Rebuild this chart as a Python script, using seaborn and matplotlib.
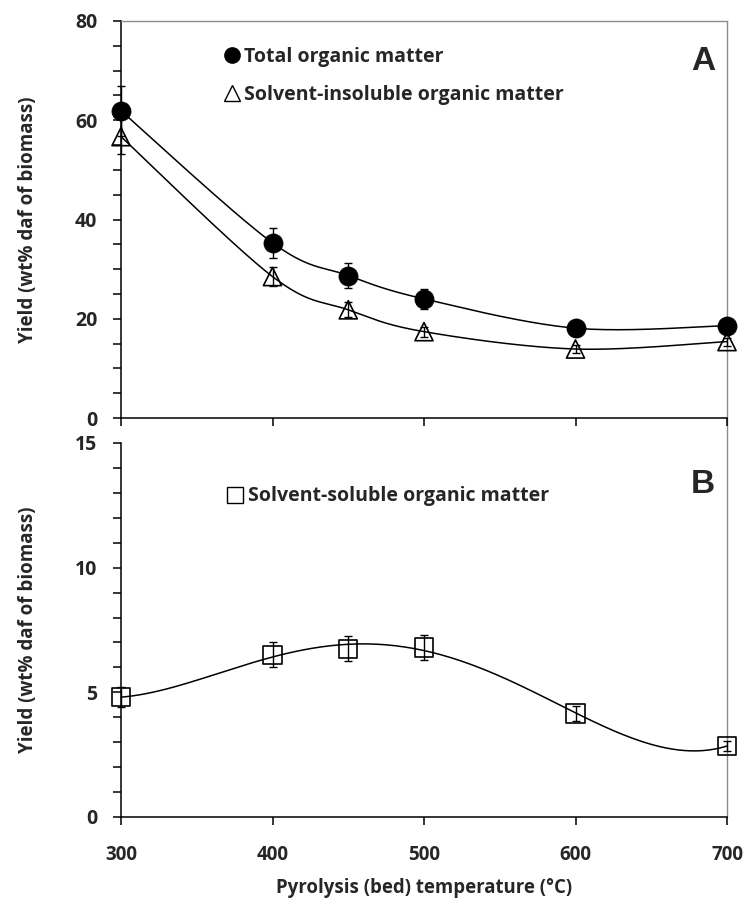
import numpy as np
import pandas as pd
import matplotlib
matplotlib.use("Agg")
import matplotlib.pyplot as plt
import seaborn as sns
from matplotlib.lines import Line2D

# ---------------- data ----------------
temperature = [300, 400, 450, 500, 600, 700]
total_om = [61.9, 35.3, 28.7, 24.0, 18.1, 18.6]
total_err = [5.0, 3.0, 2.5, 2.0, 1.5, 1.2]
insol_om = [56.7, 28.5, 21.8, 17.4, 13.9, 15.4]
insol_err = [3.5, 2.0, 1.5, 1.0, 0.8, 0.8]
sol_om = [4.8, 6.5, 6.75, 6.8, 4.15, 2.85]
sol_err = [0.4, 0.5, 0.5, 0.5, 0.3, 0.2]

x_ticks = [300, 400, 500, 600, 700]
label_total = "Total organic matter"
label_insol = "Solvent-insoluble organic matter"
label_sol = "Solvent-soluble organic matter"
ylabel = "Yield (wt% daf of biomass)"
xlabel = "Pyrolysis (bed) temperature (°C)"

# ---------------- style ----------------
sns.set_theme(style="ticks")
FONT = ["Open Sans", "DejaVu Sans"]
plt.rcParams["font.family"] = FONT
plt.rcParams["font.weight"] = "bold"
plt.rcParams["axes.linewidth"] = 1.1


def smooth_curve(x, y, n=40):
    """Excel-like smoothed line (Catmull-Rom Bezier) through the data points."""
    P = np.column_stack([np.asarray(x, float), np.asarray(y, float)])
    E = np.vstack([P[0], P, P[-1]])
    segs = []
    t = np.linspace(0, 1, n)[:, None]
    for i in range(len(P) - 1):
        p0, p1, p2, p3 = E[i], E[i + 1], E[i + 2], E[i + 3]
        c1 = p1 + (p2 - p0) / 6.0
        c2 = p2 - (p3 - p1) / 6.0
        seg = (1 - t) ** 3 * p1 + 3 * (1 - t) ** 2 * t * c1 + 3 * (1 - t) * t ** 2 * c2 + t ** 3 * p2
        segs.append(seg if i == 0 else seg[1:])
    S = np.vstack(segs)
    return pd.DataFrame({"x": S[:, 0], "y": S[:, 1]})


def poly_trend(x, y, order=4, n=200):
    """Polynomial trend line fitted to the data (like a spreadsheet trendline)."""
    x = np.asarray(x, float)
    coef = np.polyfit(x, np.asarray(y, float), order)
    xs = np.linspace(x.min(), x.max(), n)
    return pd.DataFrame({"x": xs, "y": np.polyval(coef, xs)})


W, H = 747, 914
fig = plt.figure(figsize=(W / 100, H / 100), dpi=100)
L, R = 121, 727
axA = fig.add_axes([L / W, 1 - 418 / H, (R - L) / W, (418 - 21) / H])
axB = fig.add_axes([L / W, 1 - 817 / H, (R - L) / W, (817 - 443) / H])

df = pd.DataFrame({"T": temperature, "total": total_om, "insol": insol_om, "sol": sol_om})

LW = 1.1
# ---- panel A ----
for col, err in (("total", total_err), ("insol", insol_err)):
    c = smooth_curve(df["T"], df[col])
    sns.lineplot(data=c, x="x", y="y", ax=axA, color="black", lw=LW, sort=False,
                 estimator=None, zorder=2)
    axA.errorbar(df["T"], df[col], yerr=err, fmt="none", ecolor="black",
                 elinewidth=1.0, capsize=3.2, capthick=1.0, zorder=3, clip_on=False)
sns.scatterplot(data=df, x="T", y="total", ax=axA, marker="o", s=190, color="black",
                edgecolor="black", linewidth=0.5, zorder=4, clip_on=False)
sns.scatterplot(data=df, x="T", y="insol", ax=axA, marker="^", s=170, facecolor="none",
                edgecolor="black", linewidth=1.2, zorder=4, clip_on=False)

# ---- panel B ----
c = poly_trend(df["T"], df["sol"], order=4)
sns.lineplot(data=c, x="x", y="y", ax=axB, color="black", lw=LW, sort=False,
             estimator=None, zorder=2)
axB.errorbar(df["T"], df["sol"], yerr=sol_err, fmt="none", ecolor="black",
             elinewidth=1.0, capsize=3.2, capthick=1.0, zorder=3, clip_on=False)
sns.scatterplot(data=df, x="T", y="sol", ax=axB, marker="s", s=170, facecolor="none",
                edgecolor="black", linewidth=1.2, zorder=4, clip_on=False)

# ---- axes formatting ----
for ax, ylim, major, minor in ((axA, (0, 80), 20, 5), (axB, (0, 15), 5, 1)):
    ax.set_xlim(300, 700)
    ax.set_ylim(*ylim)
    ax.set_yticks(np.arange(ylim[0], ylim[1] + 0.01, major))
    ax.set_yticks(np.arange(ylim[0], ylim[1] + 0.01, minor), minor=True)
    ax.set_xticks(x_ticks)
    ax.tick_params(axis="y", which="both", direction="out", length=6, width=1.1,
                   pad=11, labelsize=14, color="black")
    ax.tick_params(axis="x", which="both", direction="out", length=6, width=1.1,
                   pad=14, labelsize=13.5, color="black")
    for lab in ax.get_yticklabels() + ax.get_xticklabels():
        lab.set_fontweight("bold")
    ax.set_ylabel(ylabel, fontsize=13.5, fontweight="bold")
    ax.yaxis.set_label_coords(-0.137, 0.5)
    ax.set_xlabel("")
    ax.spines["left"].set_color("black")
    ax.spines["bottom"].set_color("black")
    ax.spines["right"].set_visible(False)
    ax.patch.set_alpha(0)

axA.spines["top"].set_color("#8c8c8c")
axA.spines["top"].set_linewidth(1.0)
axB.spines["top"].set_visible(False)
axA.tick_params(axis="x", labelbottom=False)
axB.set_xlabel(xlabel, fontsize=13.4, fontweight="bold")
axB.xaxis.set_label_coords(0.5, -0.163)

# continuous grey right border of the plot area
fig.add_artist(Line2D([R / W, R / W], [1 - 21 / H, 1 - 817 / H], transform=fig.transFigure,
                      color="#8c8c8c", lw=1.0, zorder=0))

# panel letters
axA.text(0.96, 0.897, "A", transform=axA.transAxes, fontsize=24, fontweight="bold",
         family="Liberation Sans", ha="center", va="center")
axB.text(0.96, 0.888, "B", transform=axB.transAxes, fontsize=24, fontweight="bold",
         family="Liberation Sans", ha="center", va="center")

# legends
hA = [Line2D([], [], marker="o", ls="none", color="black", ms=11),
      Line2D([], [], marker="^", ls="none", mfc="none", mec="black", mew=1.0, ms=11)]
axA.legend(hA, [label_total, label_insol], loc="upper left",
           bbox_to_anchor=(0.152, 0.96), frameon=False, handlelength=0.9,
           handletextpad=0.2, labelspacing=0.95, borderpad=0,
           prop={"family": FONT, "weight": "bold", "size": 14})
hB = [Line2D([], [], marker="s", ls="none", mfc="none", mec="black", mew=1.0, ms=11)]
axB.legend(hB, [label_sol], loc="upper left", bbox_to_anchor=(0.158, 0.91),
           frameon=False, handlelength=0.9, handletextpad=0.2, borderpad=0,
           prop={"family": FONT, "weight": "bold", "size": 14})

fig.savefig("out.png", dpi=100)
